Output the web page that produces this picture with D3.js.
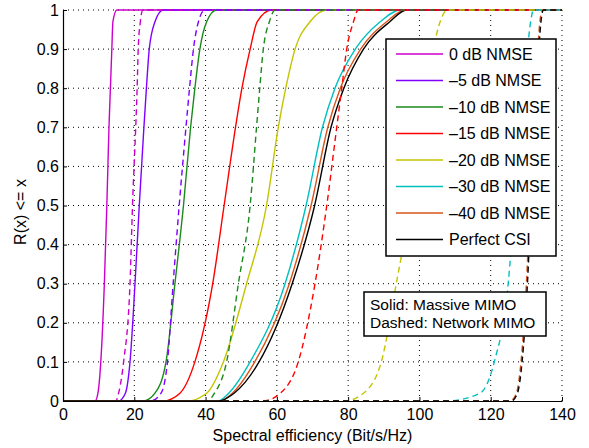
<!DOCTYPE html>
<html>
<head>
<meta charset="utf-8">
<script src="https://cdn.jsdelivr.net/npm/d3@7"></script>
<style>
  body { margin: 0; background: #fff; }
  text { font-family: "Liberation Sans", Arial, sans-serif; fill: #000; }
</style>
</head>
<body>
<div id="chart"></div>
<script>
// ---------- data (x value reached at each CDF level) ----------
const levels = [0, 0.02, 0.1, 0.3, 0.5, 0.7, 0.8, 0.9, 0.97, 1];

const names = ["0 dB NMSE", "\u20135 dB NMSE", "\u201310 dB NMSE", "\u201315 dB NMSE",
  "\u201320 dB NMSE", "\u201330 dB NMSE", "\u201340 dB NMSE", "Perfect CSI"];
const colors = ["#cc00cc", "#7f00ff", "#1a8a1a", "#ff0000",
  "#c4c400", "#00c0c0", "#d9541a", "#000000"];

// solid: Massive MIMO
const massive = [
  [9.0, 9.8, 10.6, 11.6, 12.3, 12.9, 13.3, 13.7, 14.0, 15.1],
  [15.5, 17.5, 18.8, 20.2, 21.4, 22.7, 23.4, 24.2, 25.8, 28.1],
  [22.5, 25.8, 28.9, 31.4, 33.8, 35.8, 37.0, 38.4, 40.3, 43.1],
  [28.0, 32.8, 37.0, 42.0, 45.2, 48.4, 50.2, 52.5, 54.5, 58.5],
  [34.7, 40.3, 45.0, 51.5, 57.1, 60.4, 62.5, 65.1, 69.3, 74.0],
  [43.5, 46.5, 52.5, 62.3, 68.2, 72.8, 76.3, 82.0, 89.0, 94.6],
  [44.0, 47.5, 53.8, 63.5, 69.6, 74.3, 77.8, 83.5, 90.8, 96.0],
  [43.5, 48.0, 55.0, 64.3, 70.6, 75.2, 78.8, 84.3, 91.7, 96.4]
];
// dashed: Network MIMO
const network = [
  [14.8, 15.6, 17.0, 18.8, 19.5, 20.4, 20.8, 21.1, 21.7, 22.4],
  [24.5, 27.5, 29.3, 30.9, 32.6, 34.5, 35.5, 36.6, 38.0, 39.8],
  [40.5, 42.5, 45.9, 49.2, 52.5, 54.3, 55.2, 56.2, 57.9, 59.5],
  [56.0, 61.0, 66.0, 70.7, 74.0, 76.8, 78.2, 79.6, 81.5, 82.8],
  [79.0, 84.3, 89.3, 93.5, 97.5, 101.0, 102.5, 104.0, 105.8, 108.0],
  [107.5, 117.0, 121.0, 124.9, 126.6, 128.0, 129.0, 130.3, 131.2, 132.0],
  [125.5, 127.2, 128.5, 130.0, 131.0, 132.0, 132.6, 133.2, 133.8, 134.5],
  [125.8, 127.5, 128.8, 130.3, 131.3, 132.3, 132.9, 133.5, 134.1, 134.8]
];

const xTicks = d3.range(0, 141, 20);
const yTicks = d3.range(0, 1.001, 0.1);

// ---------- set up svg ----------
const width = 589;
const height = 448;
const margin = { top: 10, right: 27, bottom: 47, left: 63 };

const svg = d3.select("#chart").append("svg")
  .attr("width", width)
  .attr("height", height);

const x = d3.scaleLinear().domain([0, 140]).range([margin.left, width - margin.right]);
const y = d3.scaleLinear().domain([0, 1]).range([height - margin.bottom, margin.top]);

// grid (dotted)
svg.append("g").selectAll("line")
  .data(xTicks.filter(d => d > 0))
  .join("line")
  .attr("x1", d => x(d)).attr("x2", d => x(d))
  .attr("y1", y(0)).attr("y2", y(1))
  .attr("stroke", "#000").attr("stroke-width", 1)
  .attr("stroke-dasharray", "1,4");
svg.append("g").selectAll("line")
  .data(yTicks.filter(d => d > 0.01))
  .join("line")
  .attr("x1", x(0)).attr("x2", x(140))
  .attr("y1", d => y(d)).attr("y2", d => y(d))
  .attr("stroke", "#000").attr("stroke-width", 1)
  .attr("stroke-dasharray", "1,4");

// curves
svg.append("clipPath").attr("id", "clip")
  .append("rect")
  .attr("x", x(0)).attr("y", y(1) - 2)
  .attr("width", x(140) - x(0)).attr("height", y(0) - y(1) + 2);

const line = d3.line()
  .x(d => x(d[0]))
  .y(d => y(d[1]))
  .curve(d3.curveMonotoneX);

function toPoints(xs) {
  const pts = xs.map((v, i) => [v, levels[i]]);
  return [[0, 0]].concat(pts, [[140, 1]]);
}

const plot = svg.append("g").attr("clip-path", "url(#clip)");

massive.forEach((xs, i) => {
  plot.append("path")
    .attr("d", line(toPoints(xs)))
    .attr("fill", "none")
    .attr("stroke", colors[i])
    .attr("stroke-width", 1.4);
});
network.forEach((xs, i) => {
  plot.append("path")
    .attr("d", line(toPoints(xs)))
    .attr("fill", "none")
    .attr("stroke", colors[i])
    .attr("stroke-width", 1.4)
    .attr("stroke-dasharray", "6,4");
});

// axes
const xAxis = d3.axisBottom(x).tickValues(xTicks).tickSizeInner(-4).tickSizeOuter(0).tickPadding(8);
const yAxis = d3.axisLeft(y).tickValues(yTicks).tickSizeInner(-4).tickSizeOuter(0).tickPadding(4)
  .tickFormat(d => d3.format("~g")(+d.toFixed(1)));

svg.append("g")
  .attr("transform", `translate(0,${y(0)})`)
  .call(xAxis)
  .call(g => g.selectAll("text").style("font-size", "16px"))
  .call(g => g.select(".domain").attr("stroke-width", 1.2));

svg.append("g")
  .attr("transform", `translate(${x(0)},0)`)
  .call(yAxis)
  .call(g => g.selectAll("text").style("font-size", "16px"))
  .call(g => g.select(".domain").attr("stroke-width", 1.2));

svg.selectAll(".tick text").attr("font-family", null);

// axis labels
svg.append("text")
  .attr("x", (x(0) + x(140)) / 2)
  .attr("y", 441)
  .attr("text-anchor", "middle")
  .style("font-size", "16px")
  .text("Spectral efficiency (Bit/s/Hz)");

svg.append("text")
  .attr("transform", "translate(26,212) rotate(-90)")
  .attr("text-anchor", "middle")
  .style("font-size", "16px")
  .text("R(x) <= x");

// legend
const legend = svg.append("g");
legend.append("rect")
  .attr("x", 386).attr("y", 39)
  .attr("width", 170).attr("height", 217)
  .attr("fill", "#fff").attr("stroke", "#000").attr("stroke-width", 1.5);

names.forEach((name, i) => {
  const ly = 54 + i * 26.5;
  legend.append("line")
    .attr("x1", 396).attr("x2", 443)
    .attr("y1", ly).attr("y2", ly)
    .attr("stroke", colors[i]).attr("stroke-width", 1.4);
  legend.append("text")
    .attr("x", 449).attr("y", ly)
    .attr("dy", "0.35em")
    .style("font-size", "16px")
    .text(name);
});

// note box
const note = svg.append("g");
note.append("rect")
  .attr("x", 364).attr("y", 292)
  .attr("width", 182).attr("height", 44)
  .attr("fill", "#fff").attr("stroke", "#000").attr("stroke-width", 1.5);
note.append("text").attr("x", 370).attr("y", 305).attr("dy", "0.35em")
  .style("font-size", "15.5px").text("Solid: Massive MIMO");
note.append("text").attr("x", 370).attr("y", 323).attr("dy", "0.35em")
  .style("font-size", "15.5px").text("Dashed: Network MIMO");
</script>
</body>
</html>
